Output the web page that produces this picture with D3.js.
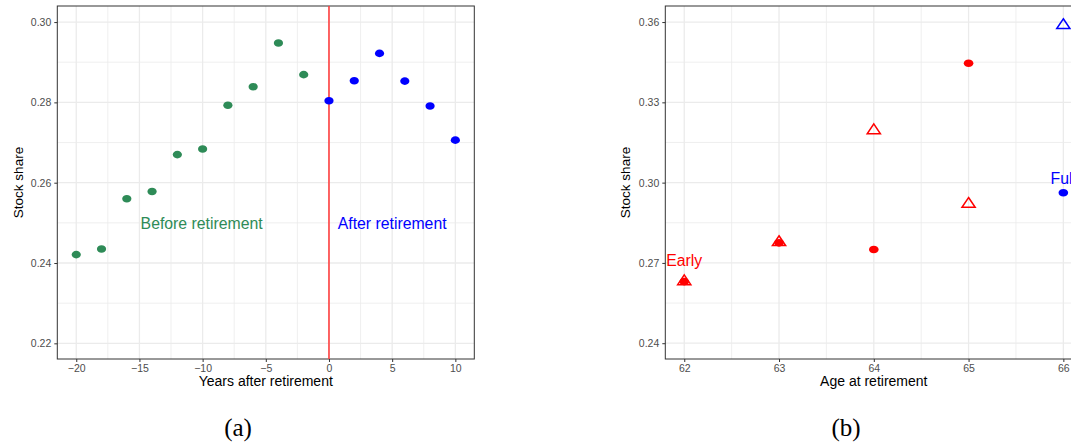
<!DOCTYPE html>
<html>
<head>
<meta charset="utf-8">
<script src="https://cdn.jsdelivr.net/npm/d3@7"></script>
<style>
  html, body { margin: 0; padding: 0; background: #fff; overflow: hidden; }
  svg { display: block; font-family: "Liberation Sans", Arial, Helvetica, sans-serif; }
</style>
</head>
<body>
<svg id="fig" width="1071" height="445"></svg>
<script>
// ---- Panel (a): stock share by years relative to retirement ----
const yearsBefore = [-20, -18, -16, -14, -12, -10, -8, -6, -4, -2];
const shareBefore = [0.2421, 0.2435, 0.2560, 0.2578, 0.2670, 0.2684, 0.2793, 0.2839, 0.2948, 0.2869];
const yearsAfter = [0, 2, 4, 6, 8, 10];
const shareAfter = [0.2804, 0.2854, 0.2922, 0.2853, 0.2791, 0.2706];
const ticksYearsX = [-20, -15, -10, -5, 0, 5, 10];
const ticksShareA = [0.22, 0.24, 0.26, 0.28, 0.30];

// ---- Panel (b): stock share by age at retirement ----
const retireAges = [62, 63, 64, 65, 66];
const groupLabels = ["Early", "Early", "Early", "Early", "Full"];
const shareCircle = [0.2630, 0.2775, 0.2750, 0.3446, 0.2962];
const shareTriangle = [0.2636, 0.2782, 0.3200, 0.2925, 0.3593];
const ticksAgeX = [62, 63, 64, 65, 66];
const ticksShareB = [0.24, 0.27, 0.30, 0.33, 0.36];

const svg = d3.select("#fig");
const TOP = 6, BOTTOM = 359, PANEL_W = 417;
const GRID = "#ebebeb", INK = "#333333", TICK_TXT = "#4d4d4d";

function panel(opts) {
  const g = svg.append("g");
  const x = d3.scaleLinear().domain(opts.xDomain).range([opts.left, opts.left + PANEL_W]);
  const y = d3.scaleLinear().domain(opts.yDomain).range([BOTTOM, TOP]);

  // minor grid (midpoints between major ticks)
  const minorX = opts.xTicks.slice(0, -1).map((t, i) => (t + opts.xTicks[i + 1]) / 2);
  const minorY = opts.yTicks.slice(0, -1).map((t, i) => (t + opts.yTicks[i + 1]) / 2);
  minorX.push(opts.xTicks[0] - (opts.xTicks[1] - opts.xTicks[0]) / 2,
              opts.xTicks[opts.xTicks.length - 1] + (opts.xTicks[1] - opts.xTicks[0]) / 2);
  minorY.push(opts.yTicks[0] - (opts.yTicks[1] - opts.yTicks[0]) / 2,
              opts.yTicks[opts.yTicks.length - 1] + (opts.yTicks[1] - opts.yTicks[0]) / 2);
  const inX = v => v > opts.xDomain[0] && v < opts.xDomain[1];
  const inY = v => v > opts.yDomain[0] && v < opts.yDomain[1];

  g.append("g").selectAll("line").data(minorX.filter(inX)).join("line")
    .attr("x1", d => x(d)).attr("x2", d => x(d)).attr("y1", TOP).attr("y2", BOTTOM)
    .attr("stroke", GRID).attr("stroke-width", 0.8);
  g.append("g").selectAll("line").data(minorY.filter(inY)).join("line")
    .attr("y1", d => y(d)).attr("y2", d => y(d)).attr("x1", x.range()[0]).attr("x2", x.range()[1])
    .attr("stroke", GRID).attr("stroke-width", 0.8);
  g.append("g").selectAll("line").data(opts.xTicks).join("line")
    .attr("x1", d => x(d)).attr("x2", d => x(d)).attr("y1", TOP).attr("y2", BOTTOM)
    .attr("stroke", GRID).attr("stroke-width", 1.3);
  g.append("g").selectAll("line").data(opts.yTicks).join("line")
    .attr("y1", d => y(d)).attr("y2", d => y(d)).attr("x1", x.range()[0]).attr("x2", x.range()[1])
    .attr("stroke", GRID).attr("stroke-width", 1.3);

  // axes
  const ax = g.append("g").attr("transform", `translate(0,${BOTTOM})`)
    .call(d3.axisBottom(x).tickValues(opts.xTicks).tickFormat(opts.xFormat).tickSize(3).tickPadding(3));
  const ay = g.append("g").attr("transform", `translate(${opts.left},0)`)
    .call(d3.axisLeft(y).tickValues(opts.yTicks).tickFormat(d3.format(".2f")).tickSize(3).tickPadding(3));
  [ax, ay].forEach(a => {
    a.select(".domain").remove();
    a.selectAll(".tick line").attr("stroke", INK);
    a.selectAll(".tick text").attr("fill", TICK_TXT).style("font-size", "10.5px")
      .style("font-family", "'Liberation Sans', Arial, sans-serif");
  });

  // panel border
  g.append("rect").attr("x", x.range()[0]).attr("y", TOP)
    .attr("width", PANEL_W).attr("height", BOTTOM - TOP)
    .attr("fill", "none").attr("stroke", INK).attr("stroke-width", 1);

  // axis titles
  g.append("text").attr("x", opts.left + PANEL_W / 2).attr("y", 386)
    .attr("text-anchor", "middle").attr("fill", "#000").style("font-size", "14px")
    .text(opts.xTitle);
  g.append("text").attr("transform", `translate(${opts.yTitleX},${(TOP + BOTTOM) / 2}) rotate(-90)`)
    .attr("text-anchor", "middle").attr("fill", "#000").style("font-size", "13.5px")
    .text("Stock share");

  return { g, x, y };
}

const minus = d => String(d).replace("-", "\u2212");

// ---------- Panel (a) ----------
const A = panel({
  left: 57.3, xDomain: [-21.5, 11.5], yDomain: [0.2161, 0.304],
  xTicks: ticksYearsX, yTicks: ticksShareA, xFormat: minus,
  xTitle: "Years after retirement", yTitleX: 22.5
});

A.g.append("line")
  .attr("x1", A.x(0)).attr("x2", A.x(0)).attr("y1", TOP).attr("y2", BOTTOM)
  .attr("stroke", "#ff4040").attr("stroke-width", 1.6);

A.g.append("g").selectAll("ellipse").data(yearsBefore).join("ellipse")
  .attr("cx", d => A.x(d)).attr("cy", (d, i) => A.y(shareBefore[i]))
  .attr("rx", 4.6).attr("ry", 3.8).attr("fill", "#2e8b57");
A.g.append("g").selectAll("ellipse").data(yearsAfter).join("ellipse")
  .attr("cx", d => A.x(d)).attr("cy", (d, i) => A.y(shareAfter[i]))
  .attr("rx", 4.6).attr("ry", 3.8).attr("fill", "#0000ff");

A.g.append("text").attr("x", A.x(-10) - 1).attr("y", A.y(0.25)).attr("dy", "0.36em")
  .attr("text-anchor", "middle").attr("fill", "#2e8b57").style("font-size", "15.8px")
  .text("Before retirement");
A.g.append("text").attr("x", A.x(5)).attr("y", A.y(0.25)).attr("dy", "0.36em")
  .attr("text-anchor", "middle").attr("fill", "#0000ff").style("font-size", "15.8px")
  .text("After retirement");

// ---------- Panel (b) ----------
const B = panel({
  left: 665.3, xDomain: [61.8, 66.2], yDomain: [0.2341, 0.366],
  xTicks: ticksAgeX, yTicks: ticksShareB, xFormat: d => d,
  xTitle: "Age at retirement", yTitleX: 630
});

const groupColour = lbl => lbl === "Full" ? "#0000ff" : "#ff0000";

B.g.append("g").selectAll("ellipse").data(retireAges).join("ellipse")
  .attr("cx", d => B.x(d)).attr("cy", (d, i) => B.y(shareCircle[i]))
  .attr("rx", 4.8).attr("ry", 3.8).attr("fill", (d, i) => groupColour(groupLabels[i]));

const tri = "M0,-5.2L6.6,4.6L-6.6,4.6Z";
B.g.append("g").selectAll("path").data(retireAges).join("path")
  .attr("d", tri)
  .attr("transform", (d, i) => `translate(${B.x(d)},${B.y(shareTriangle[i])})`)
  .attr("fill", "none").attr("stroke", (d, i) => groupColour(groupLabels[i]))
  .attr("stroke-width", 1.5);

B.g.append("text").attr("x", B.x(62)).attr("y", B.y(0.271)).attr("dy", "0.36em")
  .attr("text-anchor", "middle").attr("fill", "#ff0000").style("font-size", "15.8px")
  .text("Early");
B.g.append("text").attr("x", B.x(66)).attr("y", B.y(0.3018)).attr("dy", "0.36em")
  .attr("text-anchor", "middle").attr("fill", "#0000ff").style("font-size", "15.8px")
  .text("Full");

// ---------- captions ----------
svg.append("text").attr("x", 238).attr("y", 436).attr("text-anchor", "middle")
  .style("font-family", "'Liberation Serif', 'Times New Roman', serif").style("font-size", "25px")
  .text("(a)");
svg.append("text").attr("x", 846).attr("y", 436).attr("text-anchor", "middle")
  .style("font-family", "'Liberation Serif', 'Times New Roman', serif").style("font-size", "25px")
  .text("(b)");
</script>
</body>
</html>
